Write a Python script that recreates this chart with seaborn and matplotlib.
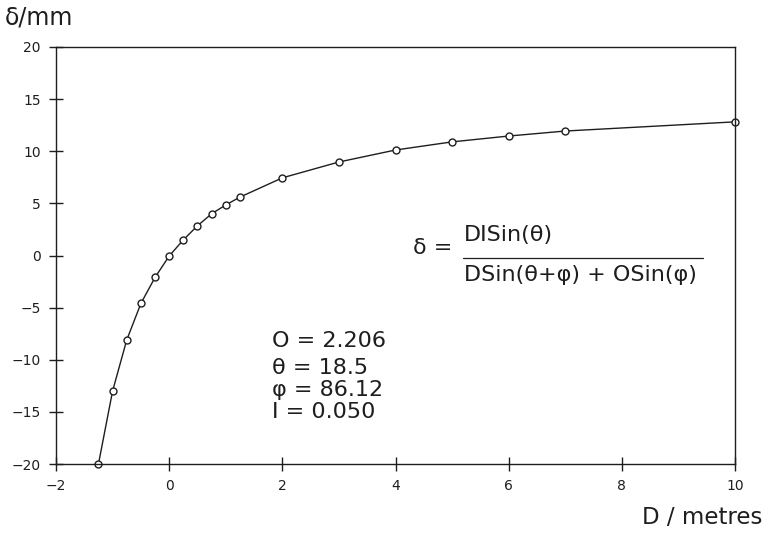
import numpy as np
import pandas as pd
import matplotlib
matplotlib.use('Agg')
import matplotlib.pyplot as plt
import seaborn as sns

# values
distance = [-1.25, -1.0, -0.75, -0.5, -0.25, 0.0, 0.25, 0.5, 0.75, 1.0, 1.25,
            2.0, 3.0, 4.0, 5.0, 6.0, 7.0, 10.0]
deflection = [-20.0, -13.0, -8.1, -4.6, -2.1, -0.05, 1.5, 2.85, 4.0, 4.85, 5.6,
              7.45, 8.97, 10.12, 10.9, 11.46, 11.94, 12.82]
xticks = [-2, 0, 2, 4, 6, 8, 10]
yticks = [-20, -15, -10, -5, 0, 5, 10, 15, 20]
params = ['O = 2.206', 'θ = 18.5', 'φ = 86.12', 'I = 0.050']

df = pd.DataFrame({'D': distance, 'delta': deflection})

sns.set_style('ticks')
plt.rcParams['font.family'] = ['DejaVu Sans']
ink = '#1e1e1e'

fig = plt.figure(figsize=(7.63, 5.34), dpi=100)
ax = fig.add_axes([0.0734, 0.131, 0.8899, 0.781])

sns.lineplot(data=df, x='D', y='delta', ax=ax, color=ink, linewidth=1.0,
             marker='o', markersize=5, markerfacecolor='white',
             markeredgecolor=ink, markeredgewidth=1.0, clip_on=False)

ax.set_xlim(-2, 10)
ax.set_ylim(-20, 20)
ax.set_xticks(xticks)
ax.set_yticks(yticks)
ax.tick_params(direction='inout', length=10, width=1.0, colors=ink,
               labelsize=10, pad=6, top=False, right=False)
for s in ax.spines.values():
    s.set_linewidth(1.0)
    s.set_color(ink)
ax.set_xlabel('')
ax.set_ylabel('')

fig.text(0.006, 0.99, 'δ/mm', fontsize=17, va='top', ha='left', color=ink)
fig.text(0.999, 0.01, 'D / metres', fontsize=16.5, va='bottom', ha='right', color=ink)

# formula
ax.text(4.31, 0.72, 'δ =', fontsize=16, va='center', ha='left', color=ink)
ax.text(6.0, 2.0, 'DISin(θ)', fontsize=16, va='center', ha='center', color=ink)
ax.plot([5.19, 9.44], [-0.24, -0.24], color=ink, linewidth=0.9)
ax.text(7.26, -1.9, 'DSin(θ+φ) + OSin(φ)', fontsize=16, va='center', ha='center',
        color=ink)

# parameter block
param_y = [-8.2, -10.8, -12.9, -15.0]
for txt, yy in zip(params, param_y):
    ax.text(1.82, yy, txt, fontsize=16, va='center', ha='left', color=ink)

fig.savefig('out.png', dpi=100)
